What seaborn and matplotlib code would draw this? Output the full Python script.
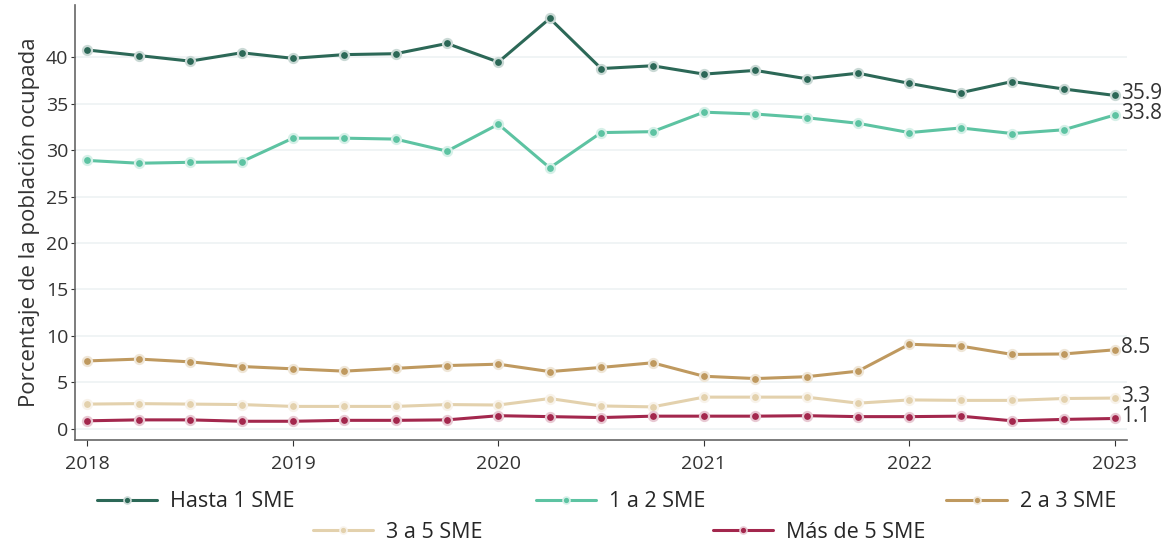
import numpy as np
import pandas as pd
import seaborn as sns
import matplotlib.pyplot as plt
import matplotlib.colors as mcolors
from matplotlib.lines import Line2D

# trimestres 2018T1 - 2023T1
periodos = [2018 + 0.25 * i for i in range(21)]
anios = [2018, 2019, 2020, 2021, 2022, 2023]

hasta_1 = [40.8, 40.2, 39.6, 40.5, 39.9, 40.3, 40.4, 41.5, 39.5, 44.2,
           38.8, 39.1, 38.2, 38.6, 37.7, 38.3, 37.2, 36.2, 37.4, 36.6, 35.9]
de_1_a_2 = [28.9, 28.6, 28.7, 28.75, 31.3, 31.3, 31.2, 29.9, 32.8, 28.1,
            31.9, 32.0, 34.1, 33.9, 33.5, 32.9, 31.9, 32.4, 31.8, 32.2, 33.8]
de_2_a_3 = [7.3, 7.5, 7.2, 6.7, 6.45, 6.2, 6.5, 6.8, 6.95, 6.15,
            6.6, 7.1, 5.65, 5.4, 5.6, 6.2, 9.1, 8.9, 8.0, 8.05, 8.5]
de_3_a_5 = [2.65, 2.7, 2.65, 2.6, 2.4, 2.4, 2.4, 2.6, 2.55, 3.25,
            2.45, 2.35, 3.4, 3.4, 3.4, 2.75, 3.1, 3.05, 3.05, 3.25, 3.3]
mas_de_5 = [0.85, 0.95, 0.95, 0.8, 0.8, 0.9, 0.9, 0.95, 1.4, 1.3,
            1.2, 1.35, 1.35, 1.35, 1.4, 1.3, 1.3, 1.35, 0.85, 1.0, 1.1]

series = ["Hasta 1 SME", "1 a 2 SME", "2 a 3 SME", "3 a 5 SME", "Más de 5 SME"]
valores = [hasta_1, de_1_a_2, de_2_a_3, de_3_a_5, mas_de_5]
colores = ["#2c6857", "#5dc3a2", "#bf995f", "#e3d1ad", "#a3274d"]

df = pd.DataFrame({
    "periodo": periodos * len(series),
    "valor": sum(valores, []),
    "serie": sum([[s] * len(periodos) for s in series], []),
})

sns.set_style("white")
plt.rcParams["font.family"] = ["Open Sans", "DejaVu Sans"]

fig = plt.figure(figsize=(11.73, 5.43), dpi=100)
ax = fig.add_axes([0.064, 0.19, 0.897, 0.80])


def halo(c, f=0.75):
    r, g, b = mcolors.to_rgb(c)
    return (r + (1 - r) * f, g + (1 - g) * f, b + (1 - b) * f)


for s, c in zip(series, colores):
    sub = df[df["serie"] == s]
    sns.lineplot(data=sub, x="periodo", y="valor", ax=ax, color=c, lw=2.2,
                 marker="o", markersize=6.5, markeredgecolor=halo(c),
                 markeredgewidth=1.6, legend=False)
    ult = sub.iloc[-1]
    ax.text(ult["periodo"] + 0.03, ult["valor"] + 0.2, f"{ult['valor']:.1f}",
            va="center", ha="left", fontsize=15, color="#333333")

ax.set_xlim(2017.94, 2023.06)
ax.set_ylim(-1.2, 45.6)
ax.set_xticks(anios)
ax.set_xticklabels([str(a) for a in anios])
ax.set_yticks(range(0, 41, 5))
ax.grid(axis="y", color="#edf2f4", lw=1.2)
ax.set_axisbelow(True)
ax.set_xlabel("")
ax.set_ylabel("Porcentaje de la población ocupada", fontsize=16,
              color="#333333", labelpad=4)
ax.tick_params(axis="both", labelsize=14, colors="#333333", length=4,
               width=0.8, left=True, bottom=True)
ax.tick_params(axis="x", pad=7)
ax.tick_params(axis="y", length=3, pad=2)
sns.despine(ax=ax)
for sp in ["left", "bottom"]:
    ax.spines[sp].set_color("#666666")
    ax.spines[sp].set_linewidth(1.2)


def handle(c):
    return Line2D([], [], color=c, lw=2.2, marker="o", markersize=5,
                  markeredgecolor=halo(c), markeredgewidth=1.2)


fila1 = [handle(c) for c in colores[:3]]
fila2 = [handle(c) for c in colores[3:]]
fig.legend(fila1, series[:3], loc="center", bbox_to_anchor=(0.517, 0.076),
           ncol=3, frameon=False, fontsize=15.5, handlelength=2.8,
           columnspacing=11.2, handletextpad=0.6)
fig.legend(fila2, series[3:], loc="center", bbox_to_anchor=(0.528, 0.02),
           ncol=2, frameon=False, fontsize=15.5, handlelength=2.8,
           columnspacing=10.7, handletextpad=0.6)

fig.savefig("out.png", dpi=100)
